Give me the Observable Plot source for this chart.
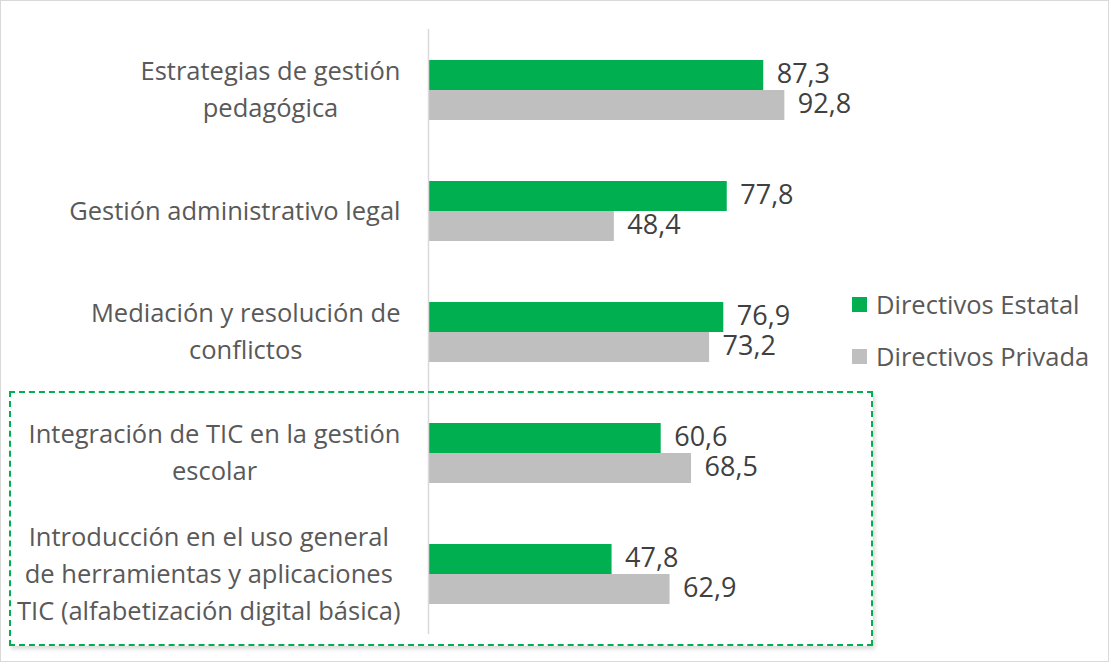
<!DOCTYPE html>
<html><head><meta charset="utf-8">
<script src="https://cdn.jsdelivr.net/npm/d3@7"></script>
<script src="https://cdn.jsdelivr.net/npm/@observablehq/plot@0.6"></script>
<style>
html,body{margin:0;padding:0;background:#fff;}
#wrap{position:relative;width:1111px;height:664px;font-family:"Open Sans",sans-serif;overflow:hidden;}
#frame{position:absolute;left:0;top:0;width:1107px;height:660px;border:1.5px solid #d9d9d9;pointer-events:none;}
#hl{position:absolute;left:9px;top:391px;width:860px;height:251px;border:2px dashed #00b050;box-shadow:2px 3px 4px rgba(0,0,0,0.15);pointer-events:none;}
#legend{position:absolute;left:852px;top:278px;font-size:25.5px;color:#595959;line-height:52px;}
#legend .row{display:flex;align-items:center;}
#legend .sw{width:15px;height:15px;margin-right:9px;}
svg{position:absolute;left:0;top:0;}
</style></head><body><div id="wrap"></div>
<script>
const categories = [
  "Estrategias de gestión\npedagógica",
  "Gestión administrativo legal",
  "Mediación y resolución de\nconflictos",
  "Integración de TIC en la gestión\nescolar",
  "Introducción en el uso general\nde herramientas y aplicaciones\nTIC (alfabetización digital básica)"
];
const series = ["Directivos Estatal", "Directivos Privada"];
const estatal = [87.3, 77.8, 76.9, 60.6, 47.8];
const privada = [92.8, 48.4, 73.2, 68.5, 62.9];
const colors = ["#00b050", "#bfbfbf"];

const rows = categories.flatMap((c, i) => [
  {cat: c, s: series[0], v: estatal[i]},
  {cat: c, s: series[1], v: privada[i]}
]);
const fmt = v => v.toFixed(1).replace(".", ",");

const chart = Plot.plot({
  width: 1111, height: 664,
  marginLeft: 428, marginRight: 299, marginTop: 28, marginBottom: 29,
  style: {fontFamily: "'Open Sans', sans-serif", fontSize: "25px", background: "transparent", overflow: "visible"},
  x: {domain: [0, 100], axis: null},
  fy: {domain: categories, padding: 0, axis: null},
  y: {domain: series, paddingInner: 0, paddingOuter: 0.96, axis: null},
  color: {domain: series, range: colors},
  marks: [
    Plot.barX(rows, {fy: "cat", y: "s", x: "v", fill: "s"}),
    Plot.ruleX([0], {stroke: "#d9d9d9", strokeWidth: 1.5}),
    Plot.text(rows, {fy: "cat", y: "s", x: "v", text: d => fmt(d.v), textAnchor: "start", dx: 13, dy: -1, fill: "#404040", fontSize: 27}),
    Plot.text(categories, {fy: d => d, text: d => d, frameAnchor: "left", dx: -28, dy: -3, textAnchor: "end", lineHeight: 1.45, fill: "#595959", fontSize: 25.5, className: "catlab"})
  ]
});

const wrap = document.getElementById("wrap");
wrap.appendChild(chart);

// center the lines of each multi-line category label within its widest line
chart.querySelectorAll(".catlab text").forEach(t => {
  const spans = t.querySelectorAll("tspan");
  if (!spans.length) return;
  let w = 0;
  spans.forEach(s => { w = Math.max(w, s.getComputedTextLength()); });
  spans.forEach(s => { s.setAttribute("text-anchor", "middle"); s.setAttribute("x", -w / 2); });
  t.setAttribute("text-anchor", "middle");
});

const hl = document.createElement("div"); hl.id = "hl"; wrap.appendChild(hl);
const fr = document.createElement("div"); fr.id = "frame"; wrap.appendChild(fr);
const lg = document.createElement("div"); lg.id = "legend";
series.forEach((s, i) => {
  const r = document.createElement("div"); r.className = "row";
  const sw = document.createElement("div"); sw.className = "sw"; sw.style.background = colors[i];
  const tx = document.createElement("span"); tx.textContent = s;
  r.appendChild(sw); r.appendChild(tx); lg.appendChild(r);
});
wrap.appendChild(lg);
</script>
</body></html>
